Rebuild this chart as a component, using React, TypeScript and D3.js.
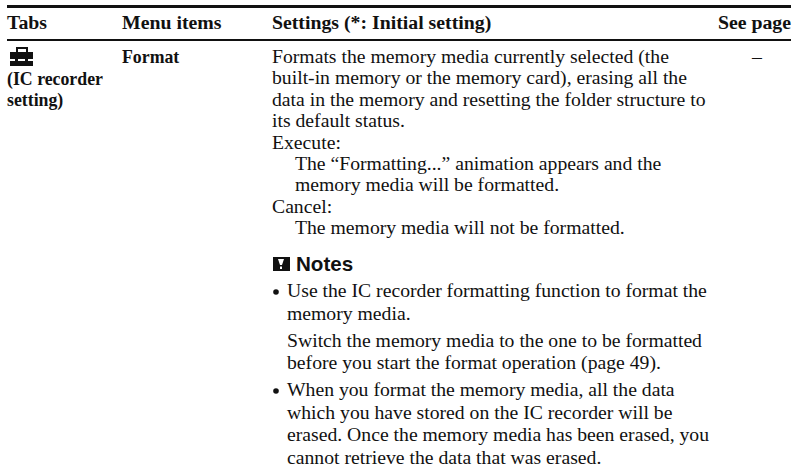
import React from 'react';
import { scaleLinear, scaleOrdinal } from 'd3';

const headers = ["Tabs", "Menu items", "Settings (*: Initial setting)"];
const lastHeader = "See page";
const tabLines = ["(IC recorder", "setting)"];
const menuItem = "Format";
const seePage = "–";
const settingsLines = [
  "Formats the memory media currently selected (the",
  "built-in memory or the memory card), erasing all the",
  "data in the memory and resetting the folder structure to",
  "its default status.",
  "Execute:",
  "The “Formatting...” animation appears and the",
  "memory media will be formatted.",
  "Cancel:",
  "The memory media will not be formatted.",
];
const indentedLines = [5, 6, 8];
const noteTitle = "Notes";
const noteParagraphs = [
  ["Use the IC recorder formatting function to format the", "memory media."],
  ["Switch the memory media to the one to be formatted", "before you start the format operation (page 49)."],
  ["When you format the memory media, all the data", "which you have stored on the IC recorder will be", "erased. Once the memory media has been erased, you", "cannot retrieve the data that was erased."],
];
const bulletParagraphs = [0, 2];

const serif = "'Liberation Serif', serif";
const ink = "#111";

const colX = scaleOrdinal<string, number>().domain(headers).range([7, 122, 272]);
const settingsY = scaleLinear().domain([0, 8]).range([63, 234]);

// notes run at one line step with a wider gap between paragraphs
const noteStep = 22.5;
const noteGap = 27;
const noteRows: { text: string; y: number; bullet: boolean }[] = [];
let noteCursor = 297;
noteParagraphs.forEach((lines, p) => {
  lines.forEach((text, i) => {
    noteRows.push({ text, y: noteCursor, bullet: i === 0 && bulletParagraphs.includes(p) });
    if (i < lines.length - 1) noteCursor += noteStep;
  });
  noteCursor += noteGap;
});

export default function App() {
  return (
    <svg width={798} height={473} style={{ position: 'absolute', left: 0, top: 0, background: '#fff' }}>
      <rect x={7} y={5} width={784} height={3} fill={ink} />
      <rect x={7} y={39} width={784} height={2} fill={ink} />

      <g fontFamily={serif} fontSize={19.8} fill={ink}>
        {headers.map(h => (
          <text key={h} x={colX(h)} y={29} fontWeight="bold">{h}</text>
        ))}
        <text x={791} y={29} fontWeight="bold" textAnchor="end">{lastHeader}</text>
        <text x={757} y={63} textAnchor="middle">{seePage}</text>
      </g>

      <g fontFamily={serif} fontSize={17.8} fontWeight="bold" fill={ink}>
        <text x={colX(headers[1])} y={63}>{menuItem}</text>
        {tabLines.map((t, i) => (
          <text key={t} x={7} y={85 + i * 21}>{t}</text>
        ))}
      </g>

      <g fontFamily={serif} fontSize={19.7} fill={ink}>
        {settingsLines.map((t, i) => (
          <text key={t} x={indentedLines.includes(i) ? 295 : 272} y={settingsY(i)}>{t}</text>
        ))}
        {noteRows.map(d => (
          <text key={d.text} x={287} y={d.y}>{d.text}</text>
        ))}
      </g>
      {noteRows.filter(d => d.bullet).map(d => (
        <circle key={d.text} cx={276} cy={d.y - 5} r={2.8} fill={ink} />
      ))}

      {/* note marker */}
      <rect x={273} y={257} width={17} height={14} fill={ink} />
      <path d="M278 259 H284 L282 265 H280 Z" fill="#fff" />
      <rect x={280} y={266.5} width={2} height={2.5} fill="#fff" />
      <text x={296} y={271} fontFamily="'Liberation Sans', sans-serif" fontWeight="bold" fontSize={20.6} fill={ink}>{noteTitle}</text>

      {/* settings tab icon */}
      <g fill={ink}>
        <path fillRule="evenodd" d="M16 53 V47 H28 V53 H26 V49 H18 V53 Z" />
        <rect x={10} y={52} width={23} height={7} />
        <rect x={10} y={61} width={23} height={5} />
        <rect x={15} y={58} width={3} height={4} />
        <rect x={25} y={58} width={3} height={4} />
      </g>
    </svg>
  );
}
